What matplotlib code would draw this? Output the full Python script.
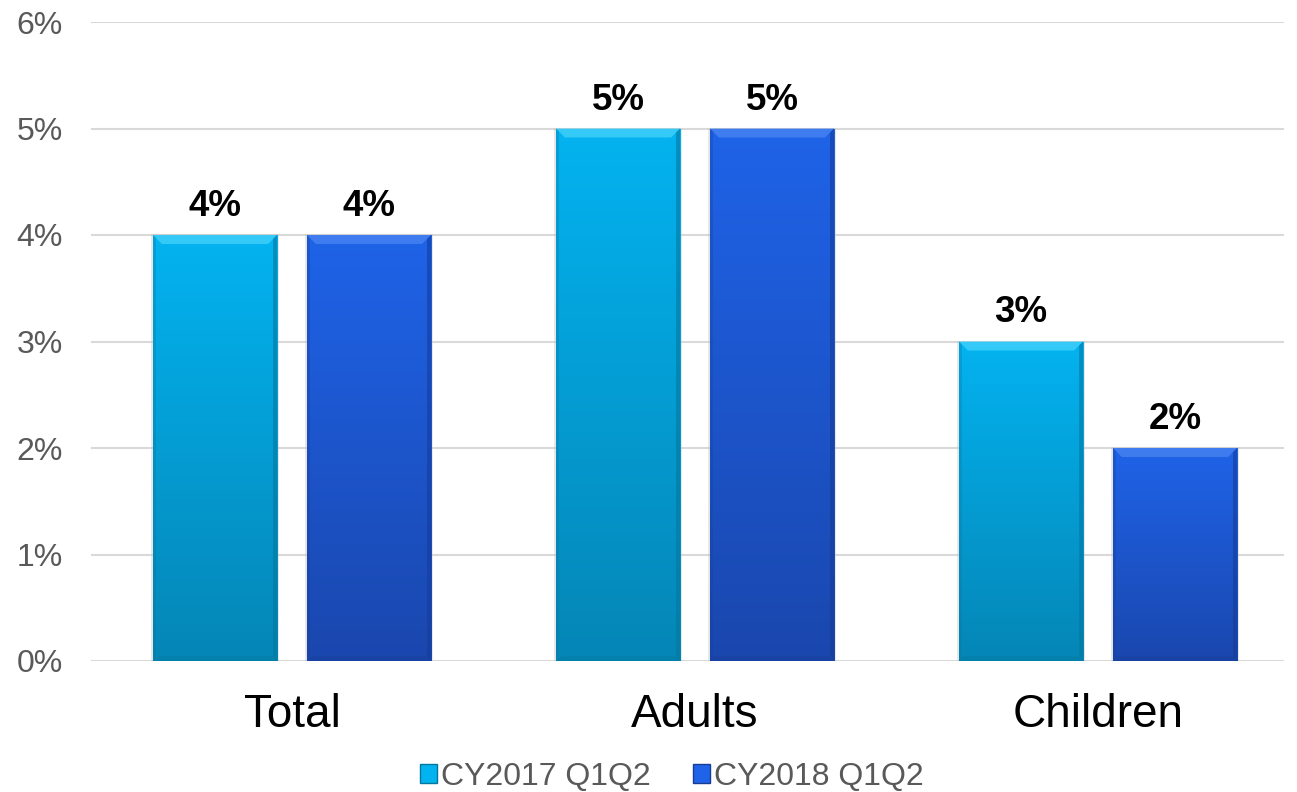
import numpy as np
import matplotlib
matplotlib.use("Agg")
import matplotlib.pyplot as plt
from matplotlib.patches import Rectangle, Polygon
from matplotlib.colors import LinearSegmentedColormap

plt.rcParams['font.family'] = ['Liberation Sans', 'DejaVu Sans']

categories = ["Total", "Adults", "Children"]
series_names = ["CY2017 Q1Q2", "CY2018 Q1Q2"]
cy2017 = [4, 5, 3]
cy2018 = [4, 5, 2]
yticks = [0, 1, 2, 3, 4, 5, 6]

# top / bottom gradient colours and bevel highlight for each series
grad_top = ["#03B3F0", "#1F63E8"]
grad_bot = ["#0586B6", "#1A47AE"]
bevel = ["#45D2FA", "#4A86F2"]
side = ["#04779F", "#173C96"]

W, H = 1297, 792
fig = plt.figure(figsize=(W / 100, H / 100), dpi=100)
ax_l, ax_r, ax_b, ax_t = 90.5, 1299.5, 661, 22
ax = fig.add_axes([ax_l / W, 1 - ax_b / H, (ax_r - ax_l) / W, (ax_b - ax_t) / H])

x = np.arange(len(categories))
width = 0.308
offset = 0.191
ymax = 6

ax.set_xlim(-0.5, len(categories) - 0.5)
ax.set_ylim(0, ymax)

py = ymax / (ax_b - ax_t)                 # data units per pixel (y)
px = len(categories) / (ax_r - ax_l)      # data units per pixel (x)

grid_end = (1283 - ax_l) / (ax_r - ax_l)
grid_start = (92 - ax_l) / (ax_r - ax_l)
for v in yticks:
    ax.axhline(v, xmin=grid_start, xmax=grid_end, color="#D9D9D9", lw=1.5, zorder=0)

grad = np.linspace(0, 1, 256).reshape(-1, 1)
for s, vals in enumerate([cy2017, cy2018]):
    cmap = LinearSegmentedColormap.from_list(f"g{s}", [grad_bot[s], grad_top[s]])
    for i, v in enumerate(vals):
        x0 = x[i] + (2 * s - 1) * offset - width / 2
        # soft shadow
        sh = Rectangle((x0 - 2 * px, 0), width + 4 * px, v + 1 * py,
                       facecolor="#BFBFBF", edgecolor="none", alpha=0.35, zorder=1)
        ax.add_patch(sh)
        rect = Rectangle((x0, 0), width, v, facecolor="none", edgecolor="none", zorder=2)
        ax.add_patch(rect)
        im = ax.imshow(grad, extent=(x0, x0 + width, 0, v), origin="lower",
                       cmap=cmap, aspect="auto", zorder=2)
        im.set_clip_path(rect)
        # bevel: top highlight and darker sides/bottom
        b = 9
        top = Polygon([(x0, v), (x0 + width, v),
                       (x0 + width - b * px, v - b * py), (x0 + b * px, v - b * py)],
                      closed=True, facecolor=bevel[s], edgecolor="none", alpha=0.75, zorder=3)
        ax.add_patch(top)
        rs = Polygon([(x0 + width, v), (x0 + width, 0),
                      (x0 + width - 4 * px, 4 * py), (x0 + width - 4 * px, v - 4 * py)],
                     closed=True, facecolor=side[s], edgecolor="none", alpha=0.6, zorder=3)
        ax.add_patch(rs)
        ls = Polygon([(x0, v), (x0, 0), (x0 + 3 * px, 3 * py), (x0 + 3 * px, v - 3 * py)],
                     closed=True, facecolor=side[s], edgecolor="none", alpha=0.3, zorder=3)
        ax.add_patch(ls)
        bt = Polygon([(x0, 0), (x0 + width, 0),
                      (x0 + width - 5 * px, 5 * py), (x0 + 5 * px, 5 * py)],
                     closed=True, facecolor=side[s], edgecolor="none", alpha=0.4, zorder=3)
        ax.add_patch(bt)
        ax.text(x0 + width / 2, v + 19 * py, f"{v}%", ha="center", va="baseline",
                fontsize=26.5, fontweight="bold", color="black", zorder=4)

ax.set_xticks(x)
ax.set_xticklabels(categories, fontsize=33, color="black")
ax.set_yticks(yticks)
ax.set_yticklabels([f"{t}%" for t in yticks], fontsize=23, color="#595959")
ax.tick_params(length=0)
ax.tick_params(axis="x", pad=23)
ax.tick_params(axis="y", pad=20)
for sp in ax.spines.values():
    sp.set_visible(False)

handles = [Rectangle((0, 0), 1, 1, facecolor=grad_top[0], edgecolor=side[0]),
           Rectangle((0, 0), 1, 1, facecolor=grad_top[1], edgecolor=side[1])]
fig.legend(handles, series_names, loc="center", bbox_to_anchor=(0.518, 0.019),
           ncol=2, frameon=False, fontsize=23, labelcolor="#595959",
           handlelength=0.55, handleheight=0.55, handletextpad=0.12, columnspacing=1.3)

fig.savefig("out.png", dpi=100)
